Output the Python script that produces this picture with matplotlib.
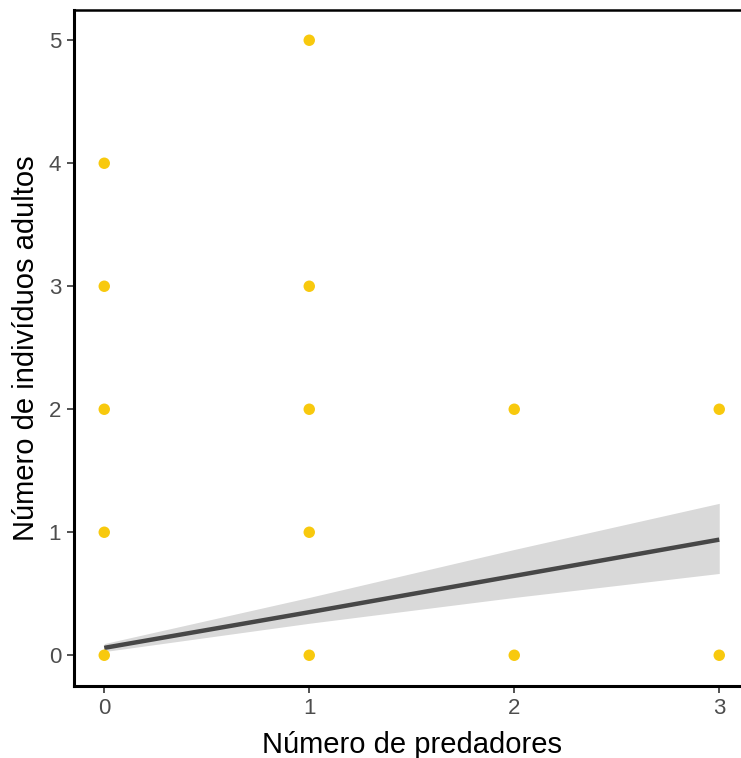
import matplotlib
matplotlib.use("Agg")
import matplotlib.pyplot as plt

# data points (predators, adults)
pred = [0, 0, 0, 0, 0, 1, 1, 1, 1, 1, 2, 2, 3, 3]
adults = [0, 1, 2, 3, 4, 0, 1, 2, 3, 5, 0, 2, 0, 2]

# fitted line and confidence band
fit_x = [0, 1, 2, 3]
fit_y = [0.06, 0.35, 0.645, 0.94]
ci_low = [0.03, 0.26, 0.47, 0.665]
ci_high = [0.095, 0.47, 0.86, 1.235]

xticks = [0, 1, 2, 3]
yticks = [0, 1, 2, 3, 4, 5]

plt.rcParams['font.family'] = ['Liberation Sans', 'DejaVu Sans']

W, H = 741, 758
fig = plt.figure(figsize=(W / 100, H / 100), dpi=100)
left_px, right_px, top_px, bottom_px = 73.5, 750, 9.5, 686
ax = fig.add_axes([left_px / W, 1 - bottom_px / H,
                   (right_px - left_px) / W, (bottom_px - top_px) / H])

ax.fill_between(fit_x, ci_low, ci_high, color='#D9D9D9', linewidth=0, zorder=1)
ax.plot(fit_x, fit_y, color='#474747', linewidth=3.2, zorder=2, solid_capstyle='butt')
ax.scatter(pred, adults, s=68, color='#F8C90D', edgecolors='none', zorder=3)

ax.set_xlim(-0.15, 3.15)
ax.set_ylim(-0.25, 5.25)
ax.set_xticks(xticks)
ax.set_yticks(yticks)
ax.tick_params(axis='both', length=5, width=1.2, color='#333333',
               labelcolor='#4D4D4D', labelsize=16, pad=4)

for s in ['left', 'bottom']:
    ax.spines[s].set_linewidth(2.2)
    ax.spines[s].set_color('black')
ax.spines['top'].set_linewidth(1.8)
ax.spines['top'].set_color('black')
ax.spines['right'].set_visible(False)

ax.set_xlabel('Número de predadores', fontsize=21, color='black', labelpad=8)
ax.set_ylabel('Número de indivíduos adultos', fontsize=21, color='black', labelpad=6)

fig.savefig('out.png', dpi=100)
